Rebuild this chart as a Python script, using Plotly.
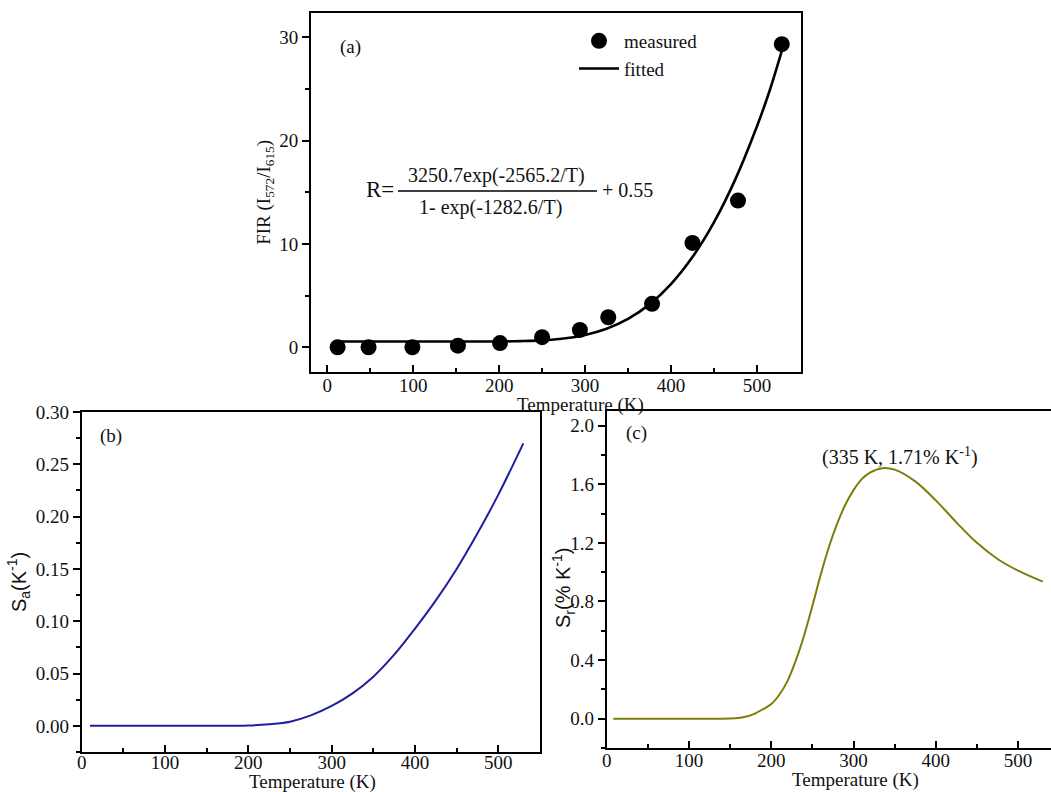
import plotly.graph_objects as go

# ---------------- data ----------------
# (a) measured FIR and fitted curve
T_meas = [12, 48, 99, 152, 201, 250, 294, 327, 378, 425, 478, 529]
FIR_meas = [0.0, 0.0, 0.0, 0.15, 0.4, 0.97, 1.68, 2.9, 4.2, 10.1, 14.2, 29.35]

T_fit = [12, 50, 100, 150, 200, 225, 250, 275, 300, 325, 350, 375, 400, 425, 450, 475, 500, 515, 529]
FIR_fit = [0.55, 0.55, 0.55, 0.55, 0.56, 0.59, 0.66, 0.84, 1.19, 1.79, 2.74, 4.15, 6.11, 8.73,
           12.09, 16.28, 21.38, 24.89, 28.7]

# (b) absolute sensitivity
T_sa = [10, 50, 100, 150, 200, 225, 250, 275, 300, 325, 350, 375, 400, 425, 450, 475, 500, 530]
Sa = [0, 0, 0, 0, 0.0003, 0.0015, 0.004, 0.010, 0.019, 0.031, 0.047, 0.068, 0.093, 0.120,
      0.150, 0.184, 0.221, 0.270]

# (c) relative sensitivity
T_sr = [8, 50, 100, 140, 150, 160, 170, 180, 190, 200, 210, 220, 230, 240, 250, 260, 270, 280, 290,
        300, 310, 320, 335, 350, 375, 400, 425, 450, 475, 500, 530]
Sr = [0, 0, 0, 0, 0.001, 0.005, 0.015, 0.035, 0.065, 0.10, 0.165, 0.26, 0.40, 0.57, 0.77, 0.98, 1.17,
      1.33, 1.46, 1.56, 1.635, 1.68, 1.71, 1.70, 1.62, 1.49, 1.34, 1.20, 1.09, 1.01, 0.935]

# ---------------- figure ----------------
W, H = 1051, 792
SERIF = "Liberation Serif, Times New Roman, serif"
SANS = "Liberation Sans, Arial, sans-serif"
FS = 19
TXT = "#111111"

fig = go.Figure()

fig.add_trace(go.Scatter(x=T_meas, y=FIR_meas, mode="markers", name="measured",
                         marker=dict(color="black", size=16), xaxis="x", yaxis="y"))
fig.add_trace(go.Scatter(x=T_fit, y=FIR_fit, mode="lines", name="fitted",
                         line=dict(color="black", width=2.6, shape="spline", smoothing=1),
                         xaxis="x", yaxis="y"))
fig.add_trace(go.Scatter(x=T_sa, y=Sa, mode="lines", showlegend=False,
                         line=dict(color="#1f1f9e", width=2, shape="spline", smoothing=1),
                         xaxis="x2", yaxis="y2"))
fig.add_trace(go.Scatter(x=T_sr, y=Sr, mode="lines", showlegend=False,
                         line=dict(color="#7d7d0a", width=2, shape="spline", smoothing=1),
                         xaxis="x3", yaxis="y3"))


def px_x(p):
    return p / W


def px_y(p):
    return 1 - p / H


def xax(domain, rng, anchor, standoff):
    return dict(domain=domain, range=rng, anchor=anchor, showgrid=False, zeroline=False,
                automargin=False,
                showline=True, linecolor="black", linewidth=2, mirror=True,
                ticks="inside", ticklen=7, tickwidth=2, tickcolor="black",
                tick0=0, dtick=100, ticklabelstandoff=standoff,
                minor=dict(ticks="inside", ticklen=4, tickwidth=2, tickcolor="black", dtick=50),
                tickfont=dict(family=SERIF, size=FS, color=TXT))


def yax(domain, rng, anchor, dtick, minor_dtick, tickformat, title_text=None, title_font=None,
        mirror=True):
    d = dict(domain=domain, range=rng, anchor=anchor, showgrid=False, zeroline=False,
             automargin=False,
             showline=True, linecolor="black", linewidth=2, mirror=mirror,
             ticks="outside", ticklen=7, tickwidth=2, tickcolor="black",
             tick0=0, dtick=dtick, tickformat=tickformat,
             minor=dict(ticks="outside", ticklen=4, tickwidth=2, tickcolor="black", dtick=minor_dtick),
             tickfont=dict(family=SERIF, size=FS, color=TXT))
    if title_text:
        d["title"] = dict(text=title_text, font=title_font, standoff=4)
    return d


fig.update_layout(
    width=W, height=H, margin=dict(l=0, r=0, t=0, b=0, autoexpand=False),
    paper_bgcolor="white", plot_bgcolor="white",
    xaxis=xax([px_x(311), px_x(800.7)], [-19, 551], "y", -5),
    yaxis=yax([px_y(372), px_y(12.7)], [-2.4, 32.4], "x", 10, 5, "d",
              "FIR (I<sub>572</sub>/I<sub>615</sub>)", dict(family=SERIF, size=FS, color=TXT)),
    xaxis2=xax([px_x(81.7), px_x(540)], [0, 550], "y2", -8),
    yaxis2=yax([px_y(752), px_y(412)], [-0.025, 0.30], "x2", 0.05, 0.025, ".2f",
               "S<sub>a</sub>(K<sup>-1</sup>)", dict(family=SANS, size=20, color=TXT)),
    xaxis3=xax([px_x(606.7), 1.0], [0, 540], "y3", -6),
    yaxis3=yax([px_y(748), px_y(411)], [-0.2, 2.1], "x3", 0.4, 0.2, ".1f", mirror=False),
    legend=dict(x=px_x(574), y=px_y(22), xanchor="left", yanchor="top",
                font=dict(family=SERIF, size=FS, color=TXT), bgcolor="rgba(0,0,0,0)",
                tracegroupgap=0, itemwidth=40),
    showlegend=True,
)


def note(text, x, y, font, **kw):
    fig.add_annotation(x=px_x(x), y=px_y(y), xref="paper", yref="paper", text=text,
                       showarrow=False, xanchor="center", yanchor="middle", font=font, **kw)


tf = dict(family=SERIF, size=FS, color=TXT)
# axis titles
note("Temperature (K)", 580, 405, tf)
note("Temperature (K)", 312, 782, tf)
note("Temperature (K)", 855, 780, tf)
note("S<sub>r</sub>(% K<sup>-1</sup>)", 563, 588, dict(family=SANS, size=20, color=TXT), textangle=-90)

# panel labels
note("(a)", 350, 47, tf)
note("(b)", 111, 436, tf)
note("(c)", 636, 433, tf)

# equation
eqf = dict(family=SERIF, size=20, color=TXT)
note("R=", 380, 190, dict(family=SERIF, size=23, color=TXT))
note("3250.7exp(-2565.2/T)", 496, 175, eqf)
note("1- exp(-1282.6/T)", 490, 207, eqf)
note("+ 0.55", 627, 190, eqf)
fig.add_shape(type="line", xref="paper", yref="paper",
              x0=px_x(398), x1=px_x(597), y0=px_y(191), y1=px_y(191),
              line=dict(color="black", width=1.5))

# peak label in (c)
fig.add_annotation(x=357, y=1.79, xref="x3", yref="y3", xanchor="center", yanchor="middle",
                   text="(335 K, 1.71% K<sup>-1</sup>)", showarrow=False, font=eqf)

fig.write_html("out.html", config={"displayModeBar": False},
               post_script="document.body.style.margin='0px';document.body.style.overflow='hidden';")
